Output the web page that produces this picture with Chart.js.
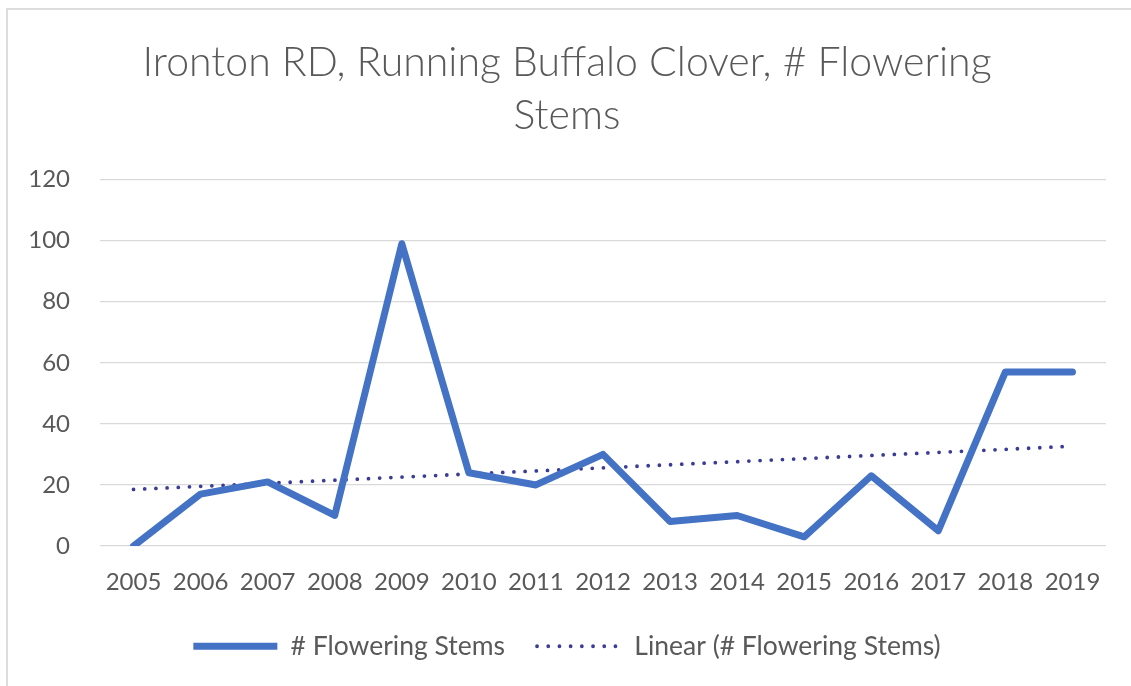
<!DOCTYPE html>
<html>
<head>
<meta charset="utf-8">
<script src="https://cdn.jsdelivr.net/npm/chart.js@4"></script>
<style>
  html, body { margin: 0; padding: 0; background: #ffffff; }
  #frame {
    position: absolute; left: 6px; top: 8px; right: 0; bottom: 0;
    border-left: 2px solid #dcdcdc; border-top: 2px solid #dcdcdc;
  }
  #wrap { position: absolute; left: 0; top: 0; width: 1131px; height: 686px; }
</style>
</head>
<body>
<div id="frame"></div>
<div id="wrap"><canvas id="chart" width="1131" height="686"></canvas></div>
<script>
// Survey years and counts of flowering stems
const years = ['2005', '2006', '2007', '2008', '2009', '2010', '2011', '2012',
               '2013', '2014', '2015', '2016', '2017', '2018', '2019'];
const floweringStems = [0, 17, 21, 10, 99, 24, 20, 30, 8, 10, 3, 23, 5, 57, 57];
const yTicks = [0, 20, 40, 60, 80, 100, 120];

const chartTitle = ['Ironton RD, Running Buffalo Clover, # Flowering', 'Stems'];
const seriesName = '# Flowering Stems';
const trendName = 'Linear (# Flowering Stems)';

// Least-squares linear trendline over the survey years
function linearTrend(values) {
  const n = values.length;
  let sx = 0, sy = 0, sxy = 0, sxx = 0;
  values.forEach((v, i) => { sx += i; sy += v; sxy += i * v; sxx += i * i; });
  const slope = (n * sxy - sx * sy) / (n * sxx - sx * sx);
  const intercept = (sy - slope * sx) / n;
  return values.map((_, i) => intercept + slope * i);
}
const trend = linearTrend(floweringStems);

const LINE_BLUE = '#4472c4';
const TREND_BLUE = '#3a3c96';
const TEXT_GREY = '#595959';

new Chart(document.getElementById('chart'), {
  type: 'line',
  data: {
    labels: years,
    datasets: [
      {
        label: seriesName,
        data: floweringStems,
        borderColor: LINE_BLUE,
        backgroundColor: LINE_BLUE,
        borderWidth: 7,
        pointRadius: 0,
        pointHoverRadius: 0,
        tension: 0,
        borderJoinStyle: 'round',
        borderCapStyle: 'round',
        order: 1
      },
      {
        label: trendName,
        data: trend,
        borderColor: TREND_BLUE,
        backgroundColor: TREND_BLUE,
        borderWidth: 3.8,
        borderDash: [0, 11.2],
        borderCapStyle: 'round',
        pointRadius: 0,
        pointHoverRadius: 0,
        tension: 0,
        order: 2
      }
    ]
  },
  options: {
    responsive: false,
    animation: false,
    events: [],
    layout: { padding: { top: 36, left: 28, right: 25, bottom: 16.5 } },
    plugins: {
      tooltip: { enabled: false },
      title: {
        display: true,
        text: chartTitle,
        color: TEXT_GREY,
        font: { family: 'Lato', size: 41, weight: '300', lineHeight: 1.3 },
        padding: { top: 0, bottom: 37 }
      },
      legend: {
        position: 'bottom',
        labels: {
          color: TEXT_GREY,
          font: { family: 'Lato', size: 26.5 },
          usePointStyle: true,
          pointStyleWidth: 84,
          boxWidth: 84,
          boxHeight: 10,
          padding: 32,
          generateLabels: (chart) => chart.data.datasets.map((ds, i) => ({
            text: ds.label,
            datasetIndex: i,
            pointStyle: 'line',
            strokeStyle: ds.borderColor,
            fillStyle: ds.borderColor,
            lineWidth: ds.borderWidth,
            lineDash: ds.borderDash || [],
            lineCap: ds.borderDash ? 'round' : 'butt',
            fontColor: TEXT_GREY,
            hidden: false
          }))
        }
      }
    },
    scales: {
      x: {
        offset: true,
        grid: { display: false, drawTicks: false },
        border: { display: false },
        ticks: {
          color: TEXT_GREY,
          font: { family: 'Lato', size: 24 },
          padding: 22,
          maxRotation: 0,
          autoSkip: false
        },
        afterFit: (scale) => { scale.height = 55; }
      },
      y: {
        min: 0,
        max: 120,
        afterBuildTicks: (scale) => { scale.ticks = yTicks.map(v => ({ value: v })); },
        grid: { color: '#d9d9d9', lineWidth: 1.3, drawTicks: false },
        border: { display: false },
        ticks: {
          color: TEXT_GREY,
          font: { family: 'Lato', size: 24 },
          padding: 30
        },
        afterFit: (scale) => { scale.width = 72; }
      }
    }
  }
});
</script>
</body>
</html>
